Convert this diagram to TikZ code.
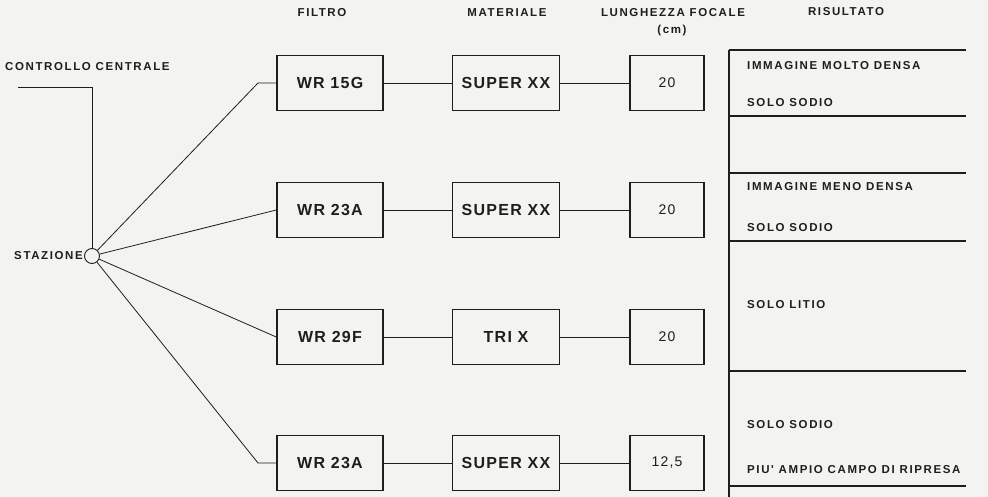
\documentclass[tikz,border=0pt]{standalone}
\usepackage{fontspec}
\setmainfont{Liberation Sans}
\newfontfamily\spaced[LetterSpace=14]{Liberation Sans}
\newfontfamily\boxfont[LetterSpace=8]{Liberation Sans}
\definecolor{ink}{HTML}{1E1E1E}
\definecolor{paper}{HTML}{F3F3F1}
\tikzset{
  hdr/.style={font=\spaced\bfseries\fontsize{11.5}{13}\selectfont, text=ink, inner sep=0pt},
  res/.style={font=\spaced\bfseries\fontsize{11.5}{13}\selectfont, text=ink, inner sep=0pt, anchor=west},
  box/.style={draw=ink, line width=1.6pt, minimum height=55pt, inner sep=0pt,
     font=\boxfont\bfseries\fontsize{16}{18}\selectfont, text=ink},
  fbox/.style={box, minimum width=106pt},
  mbox/.style={box, minimum width=107pt},
  lbox/.style={box, minimum width=74pt, font=\boxfont\fontsize{14}{16}\selectfont},
  wire/.style={draw=ink, line width=0.8pt},
  rule/.style={draw=ink, line width=1.2pt},
}
\begin{document}
\begin{tikzpicture}[x=1pt,y=-1pt]
\useasboundingbox[fill=paper] (0,0) rectangle (988,497);
% headers
\node[hdr] (h1) at (322,13) {FILTRO};
\node[hdr] (h2) at (507,13) {MATERIALE};
\node[hdr] (h3) at (673,13) {LUNGHEZZA FOCALE};
\node[hdr] (h3b) at (672,31) {(cm)};
\node[hdr] (h4) at (846,12) {RISULTATO};
\node[hdr, anchor=west] (cc) at (5,67) {CONTROLLO CENTRALE};
% station
\node[draw=ink, line width=0.9pt, circle, minimum size=15pt, inner sep=0pt] (stz) at (92,256) {};
\node[hdr, anchor=east] (stzl) at (83,256) {STAZIONE};
\coordinate (c1) at (18,87);
\coordinate (c2) at (92,87);
\draw[wire] (c1) -- (c2) -- (stz.north);
% boxes
\foreach \i/\y/\f/\m/\l in {1/83/WR 15G/SUPER XX/20, 2/210/WR 23A/SUPER XX/20, 3/337/WR 29F/TRI X/20, 4/463/WR 23A/SUPER XX/{12,5}}{
  \node[fbox] (fil\i) at (330,\y) {\f};
  \node[mbox] (mat\i) at (506,\y) {\m};
  \node[lbox] (foc\i) at (667,\y) {\l};
  \draw[wire] (fil\i) -- (mat\i);
  \draw[wire] (mat\i) -- (foc\i);
}
\coordinate (k1) at (258,83);
\coordinate (k4) at (258,463);
\draw[wire] (stz) -- (k1) -- (fil1.west);
\draw[wire] (stz) -- (fil2.west);
\draw[wire] (stz) -- (fil3.west);
\draw[wire] (stz) -- (k4) -- (fil4.west);
% result table
\coordinate (t0) at (729,50);
\coordinate (tb) at (729,497);
\draw[rule] (t0) -- (tb);
\foreach \y in {50,116,173,241,371,486}{
  \coordinate (r\y) at (729,\y);
  \coordinate (e\y) at (966,\y);
  \draw[rule] (r\y) -- (e\y);
}
\node[res] (t1) at (747,66) {IMMAGINE MOLTO DENSA};
\node[res] (t2) at (747,103) {SOLO SODIO};
\node[res] (t3) at (747,187) {IMMAGINE MENO DENSA};
\node[res] (t4) at (747,228) {SOLO SODIO};
\node[res] (t5) at (747,305) {SOLO LITIO};
\node[res] (t6) at (747,425) {SOLO SODIO};
\node[res] (t7) at (747,470) {PIU' AMPIO CAMPO DI RIPRESA};
\end{tikzpicture}
\end{document}
